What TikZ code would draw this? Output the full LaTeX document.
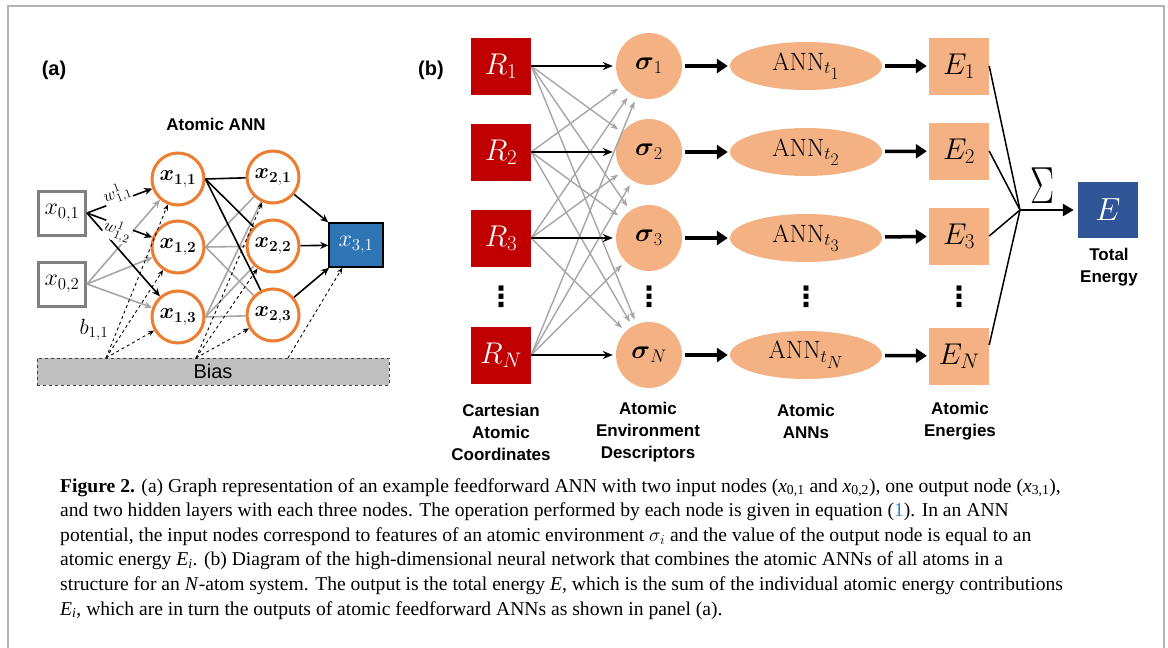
\RequirePackage{fix-cm}
\documentclass[tikz,border=0pt]{standalone}
\usepackage{amsmath}
\usepackage{amssymb}
\usepackage[no-math]{fontspec}
\setmainfont{Liberation Serif}
\setsansfont{Liberation Sans}
\newfontfamily\dotsfont{DejaVu Sans}
\usetikzlibrary{shapes,arrows.meta}

\definecolor{annorange}{HTML}{ED7D31}
\definecolor{annpeach}{HTML}{F4B183}
\definecolor{annred}{HTML}{C00000}
\definecolor{annblue}{HTML}{2E75B6}
\definecolor{annnavy}{HTML}{2F5597}
\definecolor{anngrey}{HTML}{A6A6A6}
\definecolor{boxgrey}{HTML}{808080}
\definecolor{biasgrey}{HTML}{BFBFBF}
\definecolor{framegrey}{HTML}{B4B4B4}
\definecolor{linkblue}{HTML}{2E86C1}

\begin{document}
\begin{tikzpicture}[x=1pt,y=-1pt]
            \tikzstyle{inbox}=[rectangle, draw=boxgrey, line width=3pt, fill=white, minimum width=47pt, minimum height=44pt, inner sep=0pt, font=\fontsize{24}{24}\selectfont]
            \tikzstyle{hidden}=[circle, draw=annorange, line width=3pt, fill=white, minimum size=52pt, inner sep=0pt, font=\fontsize{22}{22}\selectfont]
            \tikzstyle{outbox}=[rectangle, draw=black, line width=1.5pt, fill=annblue, text=white, minimum width=54pt, minimum height=44pt, inner sep=0pt, font=\fontsize{24}{24}\selectfont]
            \tikzstyle{biasbar}=[rectangle, draw=black!75, dashed, line width=0.8pt, fill=biasgrey, minimum width=352pt, minimum height=27pt, inner sep=0pt, font=\sffamily\fontsize{20}{20}\selectfont]
            \tikzstyle{coordbox}=[rectangle, fill=annred, text=white, minimum width=60pt, minimum height=57pt, inner sep=0pt, font=\fontsize{30}{30}\selectfont]
            \tikzstyle{descr}=[circle, fill=annpeach, minimum size=66pt, inner sep=0pt, font=\fontsize{26}{26}\selectfont]
            \tikzstyle{annnode}=[ellipse, fill=annpeach, minimum width=152pt, minimum height=48pt, inner sep=0pt, font=\fontsize{25}{25}\selectfont]
            \tikzstyle{ebox}=[rectangle, fill=annpeach, minimum width=60pt, minimum height=57pt, inner sep=0pt, font=\fontsize{30}{30}\selectfont]
            \tikzstyle{totbox}=[rectangle, fill=annnavy, text=white, minimum width=60pt, minimum height=56pt, inner sep=0pt, font=\fontsize{32}{32}\selectfont]
            \tikzstyle{collabel}=[align=center, font=\sffamily\bfseries\fontsize{17}{22}\selectfont]
            \tikzstyle{dotsnode}=[inner sep=0pt, font=\dotsfont\bfseries\fontsize{28}{28}\selectfont]
            \tikzstyle{weightlbl}=[sloped, fill=white, inner sep=0.3pt, font=\fontsize{17}{17}\selectfont]
            \tikzstyle{wire}=[line width=1.6pt, black, -{Stealth[length=8pt,width=7pt]}]
            \tikzstyle{greywire}=[line width=1.6pt, anngrey, -{Stealth[length=8pt,width=7pt]}]
            \tikzstyle{link}=[line width=1.6pt, black]
            \tikzstyle{greylink}=[line width=1.6pt, anngrey]
            \tikzstyle{biasarrow}=[line width=0.9pt, black, dashed, -{Stealth[length=6pt,width=5pt]}]
            \tikzstyle{thinwire}=[line width=2pt, black, shorten >=3pt, -{Stealth[length=10pt,width=8pt]}]
            \tikzstyle{thingrey}=[line width=1.4pt, anngrey, shorten >=5pt, -{Stealth[length=8pt,width=6pt]}]
            \tikzstyle{fatwire}=[line width=3.5pt, black, shorten <=3pt, shorten >=2pt, -{Triangle[length=11pt,width=14pt]}]
            \tikzstyle{sumline}=[line width=1.5pt, black]
            \useasboundingbox (0,0) rectangle (1168,648);
            \draw[framegrey, line width=2pt] (8,648) -- (8,6) -- (1164,6) -- (1164,648);

            % panel (a)
            \node[font=\sffamily\bfseries\fontsize{20}{20}\selectfont] (pa) at (54,70){(a)};
            \node[font=\sffamily\bfseries\fontsize{17}{17}\selectfont] (atann) at (216,124){Atomic ANN};
            \node[inbox] (x01) at (62,213){$x_{0,1}$};
            \node[inbox] (x02) at (62,284){$x_{0,2}$};
            \node[hidden] (x11) at (178,179){$\boldsymbol{x}_{\mathbf{1,1}}$};
            \node[hidden] (x12) at (178,247){$\boldsymbol{x}_{\mathbf{1,2}}$};
            \node[hidden] (x13) at (178,317){$\boldsymbol{x}_{\mathbf{1,3}}$};
            \node[hidden] (x21) at (273,177){$\boldsymbol{x}_{\mathbf{2,1}}$};
            \node[hidden] (x22) at (273,246){$\boldsymbol{x}_{\mathbf{2,2}}$};
            \node[hidden] (x23) at (273,315){$\boldsymbol{x}_{\mathbf{2,3}}$};
            \node[outbox] (x31) at (356,245){$x_{3,1}$};
            \node[biasbar] (bias) at (213,371.5){Bias};
            \node[font=\fontsize{22}{22}\selectfont] (b11) at (94,330){$b_{1,1}$};
            \coordinate (bp1) at (106,358);
            \coordinate (bp2) at (196,358);
            \coordinate (bp3) at (288,358);

            \path (x02.east) edge [greywire] (x11);
            \path (x02.east) edge [greywire] (x12);
            \path (x02.east) edge [greywire] (x13);
            \path (x12.east) edge [greylink] (x21);
            \path (x12.east) edge [greylink] (x22);
            \path (x12.east) edge [greylink] (x23);
            \path (x13.east) edge [greylink] (x21);
            \path (x13.east) edge [greylink] (x22);
            \path (x13.east) edge [greylink] (x23);
            \path (x01.east) edge [wire] (x13);
            \path (x01.east) edge [wire] node[weightlbl, pos=0.5, above=-4pt]{$w^1_{1,1}$} (x11);
            \path (x01.east) edge [wire] node[weightlbl, pos=0.5, below=-5pt]{$w^1_{1,2}$} (x12);
            \path (x11.east) edge [link] (x21);
            \path (x11.east) edge [link] (x22);
            \path (x11.east) edge [link] (x23);
            \path (x21) edge [wire] (x31);
            \path (x22) edge [wire] (x31);
            \path (x23) edge [wire] (x31);
            \path (bp1) edge [biasarrow] (x11);
            \path (bp1) edge [biasarrow] (x12);
            \path (bp1) edge [biasarrow] (x13);
            \path (bp2) edge [biasarrow] (x21);
            \path (bp2) edge [biasarrow] (x22);
            \path (bp2) edge [biasarrow] (x23);
            \path (bp3) edge [biasarrow] (x31);

            % panel (b)
            \node[font=\sffamily\bfseries\fontsize{20}{20}\selectfont] (pb) at (431,70){(b)};
            \node[coordbox] (R1) at (501,66){$R_1$};
            \node[coordbox] (R2) at (501,152){$R_2$};
            \node[coordbox] (R3) at (501,238){$R_3$};
            \node[dotsnode] (Rd) at (501,297){⋮};
            \node[coordbox] (RN) at (501,355){$R_N$};
            \node[descr] (s1) at (649,66){$\boldsymbol{\sigma}_1$};
            \node[descr] (s2) at (649,152){$\boldsymbol{\sigma}_2$};
            \node[descr] (s3) at (649,238){$\boldsymbol{\sigma}_3$};
            \node[dotsnode] (sd) at (649,297){⋮};
            \node[descr] (sN) at (649,355){$\boldsymbol{\sigma}_N$};
            \node[annnode] (A1) at (806,66){$\mathrm{ANN}_{t_{\scriptstyle 1}}$};
            \node[annnode] (A2) at (806,152){$\mathrm{ANN}_{t_{\scriptstyle 2}}$};
            \node[annnode] (A3) at (806,238){$\mathrm{ANN}_{t_{\scriptstyle 3}}$};
            \node[dotsnode] (Ad) at (806,297){⋮};
            \node[annnode] (AN) at (806,355){$\mathrm{ANN}_{t_{\scriptstyle N}}$};
            \node[ebox] (E1) at (959,66){$E_1$};
            \node[ebox] (E2) at (959,151){$E_2$};
            \node[ebox] (E3) at (959,236){$E_3$};
            \node[dotsnode] (Ed) at (959,297){⋮};
            \node[ebox] (EN) at (959,356){$E_N$};
            \coordinate (sum) at (1020,210);
            \node[font=\fontsize{36}{36}\selectfont] (sigsum) at (1043,186){\scalebox{1}[1.45]{$\Sigma$}};
            \node[totbox] (Etot) at (1108,210){$E$};
            \node[collabel] (ltot) at (1109,267){Total\\Energy};
            \node[collabel] (lR) at (501,432){Cartesian\\Atomic\\Coordinates};
            \node[collabel] (ls) at (648,432){Atomic\\Environment\\Descriptors};
            \node[collabel] (lA) at (806,421){Atomic\\ANNs};
            \node[collabel] (lE) at (960,421){Atomic\\Energies};

            \path (R1.east) edge [thingrey] (s2);
            \path (R1.east) edge [thingrey] (s3);
            \path (R1.east) edge [thingrey] (sN);
            \path (R2.east) edge [thingrey] (s1);
            \path (R2.east) edge [thingrey] (s3);
            \path (R2.east) edge [thingrey] (sN);
            \path (R3.east) edge [thingrey] (s1);
            \path (R3.east) edge [thingrey] (s2);
            \path (R3.east) edge [thingrey] (sN);
            \path (RN.east) edge [thingrey] (s1);
            \path (RN.east) edge [thingrey] (s2);
            \path (RN.east) edge [thingrey] (s3);
            \path (R1.east) edge [thinwire] (s1);
            \path (R2.east) edge [thinwire] (s2);
            \path (R3.east) edge [thinwire] (s3);
            \path (RN.east) edge [thinwire] (sN);
            \path (s1) edge [fatwire] (A1);
            \path (s2) edge [fatwire] (A2);
            \path (s3) edge [fatwire] (A3);
            \path (sN) edge [fatwire] (AN);
            \path (A1) edge [fatwire] (E1);
            \path (A2) edge [fatwire] (E2);
            \path (A3) edge [fatwire] (E3);
            \path (AN) edge [fatwire] (EN);
            \path (E1.east) edge [sumline] (sum);
            \path (E2.east) edge [sumline] (sum);
            \path (E3.east) edge [sumline] (sum);
            \path (EN.20) edge [sumline] (sum);
            \path (sum) edge [line width=2.5pt, black, shorten >=4pt, -{Triangle[length=11pt,width=12pt]}] (Etot);

            % caption
            \node[anchor=north west, align=left, inner sep=0pt, font=\fontsize{19.6}{24.6}\selectfont] (cap) at (60,478){%
            \textbf{Figure 2.} (a) Graph representation of an example feedforward ANN with two input nodes (\textit{x}\textsubscript{0,1} and \textit{x}\textsubscript{0,2}), one output node (\textit{x}\textsubscript{3,1}),\\
            and two hidden layers with each three nodes. The operation performed by each node is given in equation (\textcolor{linkblue}{1}). In an ANN\\
            potential, the input nodes correspond to features of an atomic environment $\sigma_i$ and the value of the output node is equal to an\\
            atomic energy \textit{E}\textsubscript{\textit{i}}. (b) Diagram of the high-dimensional neural network that combines the atomic ANNs of all atoms in a\\
            structure for an \textit{N}-atom system. The output is the total energy \textit{E}, which is the sum of the individual atomic energy contributions\\
            \textit{E}\textsubscript{\textit{i}}, which are in turn the outputs of atomic feedforward ANNs as shown in panel (a).};
        \end{tikzpicture}
\end{document}
